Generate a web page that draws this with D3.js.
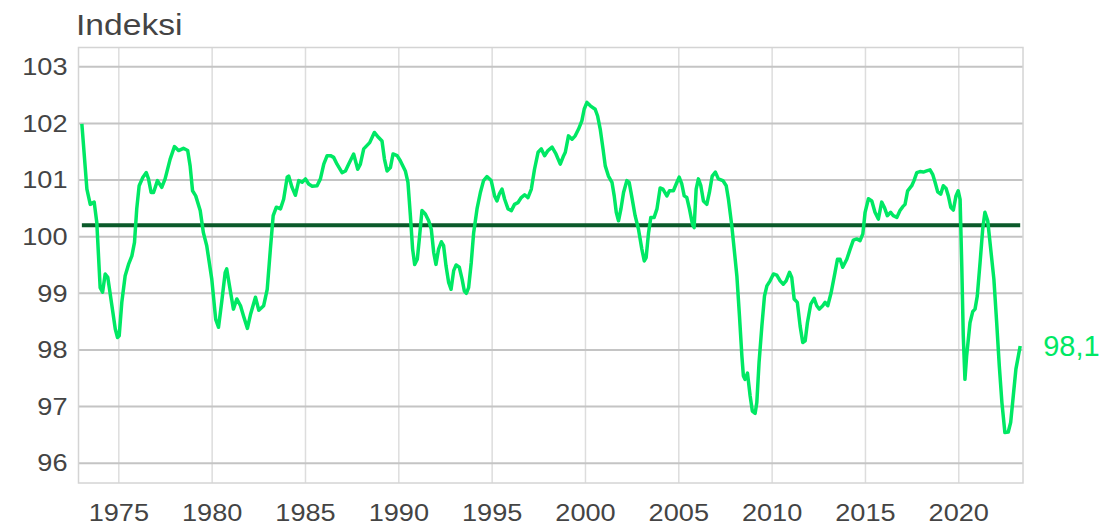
<!DOCTYPE html>
<html>
<head>
<meta charset="utf-8">
<script src="https://cdn.jsdelivr.net/npm/d3@7"></script>
<style>
  body { margin: 0; background: #fff; }
  text { font-family: "Liberation Sans", Arial, sans-serif; fill: #444; }
</style>
</head>
<body>
<div id="chart"></div>
<script>
// data: time (decimal year) and index value
var years = [1973.02,1973.29,1973.47,1973.68,1973.82,1974.00,1974.13,1974.27,1974.41,1974.63,1974.81,1974.93,
  1975.02,1975.16,1975.34,1975.52,1975.70,1975.84,1975.96,1976.09,1976.29,1976.47,1976.59,1976.73,1976.86,
  1977.07,1977.30,1977.48,1977.75,1977.98,1978.20,1978.46,1978.69,1978.82,1978.95,1979.12,1979.36,1979.53,
  1979.71,1979.98,1980.19,1980.34,1980.51,1980.70,1980.78,1980.96,1981.14,1981.32,1981.52,1981.68,1981.89,
  1982.05,1982.32,1982.50,1982.76,1982.95,1983.12,1983.27,1983.44,1983.66,1983.83,1984.02,1984.10,1984.28,
  1984.46,1984.64,1984.82,1985.00,1985.17,1985.36,1985.62,1985.80,1985.98,1986.16,1986.34,1986.51,1986.69,
  1986.96,1987.14,1987.31,1987.58,1987.80,1987.94,1988.12,1988.44,1988.69,1988.92,1989.10,1989.23,1989.37,
  1989.55,1989.69,1989.91,1990.08,1990.35,1990.49,1990.62,1990.74,1990.85,1990.99,1991.10,1991.24,1991.42,
  1991.60,1991.74,1991.87,1991.99,1992.13,1992.28,1992.40,1992.53,1992.67,1992.80,1992.94,1993.07,1993.24,
  1993.39,1993.51,1993.62,1993.74,1993.88,1994.01,1994.19,1994.37,1994.54,1994.72,1994.95,1995.13,1995.26,
  1995.38,1995.53,1995.67,1995.85,1996.03,1996.20,1996.38,1996.56,1996.74,1996.92,1997.10,1997.27,1997.46,
  1997.63,1997.81,1997.99,1998.21,1998.42,1998.65,1998.83,1998.92,1999.09,1999.28,1999.45,1999.63,1999.81,
  1999.93,2000.08,2000.26,2000.52,2000.65,2000.79,2000.94,2001.06,2001.23,2001.42,2001.54,2001.65,2001.77,
  2001.90,2002.04,2002.22,2002.34,2002.49,2002.66,2002.84,2003.02,2003.15,2003.25,2003.38,2003.50,2003.68,
  2003.83,2004.00,2004.15,2004.36,2004.50,2004.71,2004.90,2005.02,2005.16,2005.29,2005.43,2005.57,2005.73,
  2005.82,2005.93,2006.05,2006.18,2006.32,2006.50,2006.64,2006.79,2006.96,2007.12,2007.36,2007.54,2007.66,
  2007.84,2007.93,2008.11,2008.25,2008.38,2008.46,2008.55,2008.68,2008.82,2008.94,2009.09,2009.18,2009.30,
  2009.45,2009.59,2009.72,2009.89,2010.07,2010.25,2010.43,2010.60,2010.75,2010.93,2011.05,2011.18,2011.35,
  2011.50,2011.64,2011.77,2011.89,2012.07,2012.25,2012.39,2012.53,2012.71,2012.84,2012.98,2013.16,2013.37,
  2013.50,2013.64,2013.78,2014.00,2014.18,2014.35,2014.53,2014.71,2014.86,2014.98,2015.16,2015.34,2015.51,
  2015.69,2015.87,2016.01,2016.17,2016.35,2016.49,2016.68,2016.85,2017.00,2017.12,2017.26,2017.48,2017.60,
  2017.75,2017.92,2018.10,2018.28,2018.46,2018.60,2018.73,2018.87,2019.03,2019.17,2019.32,2019.44,2019.57,
  2019.71,2019.85,2019.97,2020.07,2020.16,2020.24,2020.33,2020.42,2020.60,2020.75,2020.87,2020.99,2021.14,
  2021.28,2021.40,2021.55,2021.71,2021.88,2022.03,2022.17,2022.31,2022.47,2022.65,2022.78,2022.92,2023.06,
  2023.19,2023.29];

var values = [101.99,100.84,100.57,100.61,100.25,99.10,99.02,99.34,99.28,98.78,98.37,98.22,
  98.25,98.84,99.31,99.51,99.66,99.90,100.49,100.90,101.05,101.13,101.02,100.78,100.78,
  100.99,100.87,101.02,101.37,101.59,101.52,101.56,101.52,101.25,100.81,100.72,100.46,100.07,
  99.84,99.25,98.54,98.40,98.84,99.37,99.43,99.07,98.72,98.90,98.78,98.60,98.38,
  98.62,98.93,98.70,98.78,99.07,99.78,100.37,100.52,100.49,100.66,101.05,101.07,100.87,
  100.73,100.99,100.96,101.02,100.93,100.89,100.90,101.02,101.28,101.43,101.43,101.40,101.28,
  101.13,101.16,101.28,101.46,101.19,101.28,101.55,101.66,101.84,101.75,101.69,101.37,101.16,
  101.22,101.46,101.43,101.34,101.16,100.96,100.37,99.78,99.51,99.60,99.96,100.46,100.40,
  100.28,100.13,99.72,99.51,99.78,99.91,99.84,99.48,99.19,99.07,99.40,99.50,99.46,
  99.25,99.04,99.00,99.10,99.54,100.07,100.49,100.78,100.99,101.06,100.99,100.72,100.63,
  100.75,100.84,100.66,100.49,100.46,100.57,100.60,100.69,100.74,100.69,100.84,101.19,101.49,
  101.55,101.43,101.52,101.58,101.46,101.28,101.43,101.49,101.78,101.72,101.78,101.90,102.05,
  102.25,102.37,102.31,102.25,102.13,101.90,101.55,101.25,101.07,100.96,100.72,100.43,100.28,
  100.49,100.78,100.99,100.96,100.69,100.37,100.13,99.78,99.57,99.63,100.07,100.34,100.34,
  100.49,100.86,100.84,100.72,100.81,100.81,100.96,101.05,100.93,100.72,100.69,100.49,100.22,
  100.16,100.84,101.02,100.90,100.63,100.57,100.78,101.07,101.14,101.02,100.99,100.90,100.66,
  100.19,99.90,99.31,98.60,97.89,97.54,97.48,97.59,97.19,96.92,96.88,97.07,97.78,
  98.42,98.95,99.13,99.22,99.34,99.32,99.22,99.16,99.22,99.37,99.28,98.90,98.84,
  98.42,98.13,98.16,98.48,98.81,98.91,98.78,98.72,98.78,98.84,98.78,99.01,99.37,
  99.60,99.60,99.46,99.60,99.78,99.94,99.96,99.93,100.05,100.43,100.67,100.63,100.43,
  100.31,100.61,100.52,100.37,100.43,100.37,100.34,100.46,100.53,100.57,100.81,100.90,100.99,
  101.13,101.15,101.14,101.16,101.18,101.10,100.96,100.79,100.75,100.90,100.85,100.72,100.52,
  100.47,100.72,100.81,100.66,99.48,98.25,97.48,97.89,98.48,98.68,98.72,98.95,99.54,
  100.13,100.43,100.28,99.78,99.25,98.48,97.72,97.07,96.54,96.55,96.72,97.19,97.66,
  97.89,98.07];

var average = 100.2;
var lastLabel = "98,1";
var title = "Indeksi";
var yTicks = [96, 97, 98, 99, 100, 101, 102, 103];
var xTicks = [1975, 1980, 1985, 1990, 1995, 2000, 2005, 2010, 2015, 2020];

var svgWidth = 1104, svgHeight = 528;
var margin = {top: 47.5, right: 81, bottom: 45, left: 78.5};
var width = svgWidth - margin.left - margin.right;
var height = svgHeight - margin.top - margin.bottom;

var lineColor = "#00e864";
var avgColor = "#0b5a2a";

var svg = d3.select("#chart").append("svg")
  .attr("width", svgWidth)
  .attr("height", svgHeight);

var chart = svg.append("g")
  .attr("transform", `translate(${margin.left}, ${margin.top})`);

var x = d3.scaleLinear().domain([1972.84, 2023.44]).range([0, width]);
var y = d3.scaleLinear().domain([95.65, 103.34]).range([height, 0]);

// vertical grid
chart.append("g")
  .selectAll("line")
  .data(xTicks)
  .enter().append("line")
  .attr("x1", d => x(d)).attr("x2", d => x(d))
  .attr("y1", 0).attr("y2", height)
  .attr("stroke", "#dddddd").attr("stroke-width", 1.5);

// horizontal grid
chart.append("g")
  .selectAll("line")
  .data(yTicks)
  .enter().append("line")
  .attr("x1", 0).attr("x2", width)
  .attr("y1", d => y(d)).attr("y2", d => y(d))
  .attr("stroke", "#c4c4c4").attr("stroke-width", 2);

// frame
chart.append("rect")
  .attr("width", width).attr("height", height)
  .attr("fill", "none").attr("stroke", "#d4d4d4").attr("stroke-width", 1.5);

// tick labels
chart.append("g")
  .selectAll("text")
  .data(yTicks)
  .enter().append("text")
  .attr("transform", d => `translate(-11, ${y(d)}) scale(1.18, 1)`)
  .attr("dy", "0.36em")
  .attr("text-anchor", "end")
  .attr("font-size", 23)
  .text(d => d);

chart.append("g")
  .selectAll("text")
  .data(xTicks)
  .enter().append("text")
  .attr("transform", d => `translate(${x(d)}, ${height + 38}) scale(1.18, 1)`)
  .attr("text-anchor", "middle")
  .attr("font-size", 23)
  .text(d => d);

// title
svg.append("text")
  .attr("transform", "translate(76, 35) scale(1.12, 1)")
  .attr("font-size", 30)
  .text(title);

// average line
chart.append("line")
  .attr("x1", x(years[0])).attr("x2", x(years[years.length - 1]))
  .attr("y1", y(average)).attr("y2", y(average))
  .attr("stroke", avgColor).attr("stroke-width", 4);

// index line
var line = d3.line()
  .x((d, i) => x(years[i]))
  .y(d => y(d));

chart.append("path")
  .datum(values)
  .attr("d", line)
  .attr("fill", "none")
  .attr("stroke", lineColor)
  .attr("stroke-width", 3.5)
  .attr("stroke-linejoin", "round");

// last value label
chart.append("text")
  .attr("x", x(years[years.length - 1]) + 23)
  .attr("y", y(values[values.length - 1]))
  .attr("dy", "0.36em")
  .attr("font-size", 29)
  .style("fill", lineColor)
  .text(lastLabel);
</script>
</body>
</html>
